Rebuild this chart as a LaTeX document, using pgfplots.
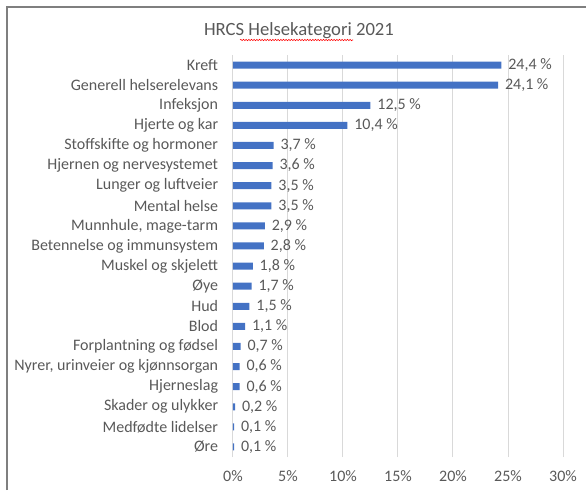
\documentclass[border=0pt]{standalone}
\usepackage{fontspec}
\setmainfont{Carlito}
\usepackage{pgfplots}
\pgfplotsset{compat=1.18}
\usetikzlibrary{decorations.pathmorphing}
\definecolor{barblue}{HTML}{4472C4}
\definecolor{txt}{HTML}{595959}
\definecolor{grd}{HTML}{D9D9D9}
\definecolor{frm}{HTML}{7F7F7F}
\begin{document}
\begin{tikzpicture}
\path[use as bounding box] (0,0) rectangle (439.5pt,367.5pt);
\draw[frm, line width=1.2pt] (5.25pt,0pt) -- (5.25pt,362.25pt) -- (439.5pt,362.25pt);
\node[anchor=base, text=txt, font=\fontsize{14}{16}\selectfont, inner sep=0pt] at (224.25pt,340.5pt) {HRCS Helsekategori 2021};
\draw[red, line width=0.4pt, decorate, decoration={snake, amplitude=0.5pt, segment length=2pt}] (180pt,337.5pt) -- (264.75pt,337.5pt);
\begin{axis}[
  at={(174.75pt,24.75pt)}, anchor=south west,
  width=247.5pt, height=301.5pt, scale only axis,
  xbar, bar width=5.25pt,
  xmin=0, xmax=30, ymin=-0.5, ymax=19.5,
  xtick={0,5,10,15,20,25,30},
  xticklabels={0\%,5\%,10\%,15\%,20\%,25\%,30\%},
  ytick={0,1,...,19},
  yticklabels={Øre, Medfødte lidelser, Skader og ulykker, Hjerneslag, {Nyrer, urinveier og kjønnsorgan}, Forplantning og fødsel, Blod, Hud, Øye, Muskel og skjelett, Betennelse og immunsystem, {Munnhule, mage-tarm}, Mental helse, Lunger og luftveier, Hjernen og nervesystemet, Stoffskifte og hormoner, Hjerte og kar, Infeksjon, Generell helserelevans, Kreft},
  xmajorgrids, grid style={grd, line width=0.75pt},
  axis line style={draw=none}, major tick length=0pt,
  tick label style={font=\fontsize{12}{14}\selectfont, text=txt},
  xticklabel style={anchor=base, yshift=-18.4pt},
  yticklabel style={anchor=east, inner sep=0pt, xshift=-11pt},
  /pgf/number format/assume math mode=true,
  point meta=x,
  nodes near coords={\pgfmathprintnumber[fixed,fixed zerofill,precision=1,use comma]{\pgfplotspointmeta}~\%},
  nodes near coords style={anchor=west, inner sep=0pt, xshift=5pt, font=\fontsize{12}{14}\selectfont, text=txt},
]
\addplot[fill=barblue, draw=none] coordinates {
(0.1,0) (0.1,1) (0.2,2) (0.6,3) (0.6,4) (0.7,5) (1.1,6) (1.5,7) (1.7,8) (1.8,9)
(2.8,10) (2.9,11) (3.5,12) (3.5,13) (3.6,14) (3.7,15) (10.4,16) (12.5,17) (24.1,18) (24.4,19)
};
\end{axis}
\end{tikzpicture}
\end{document}
